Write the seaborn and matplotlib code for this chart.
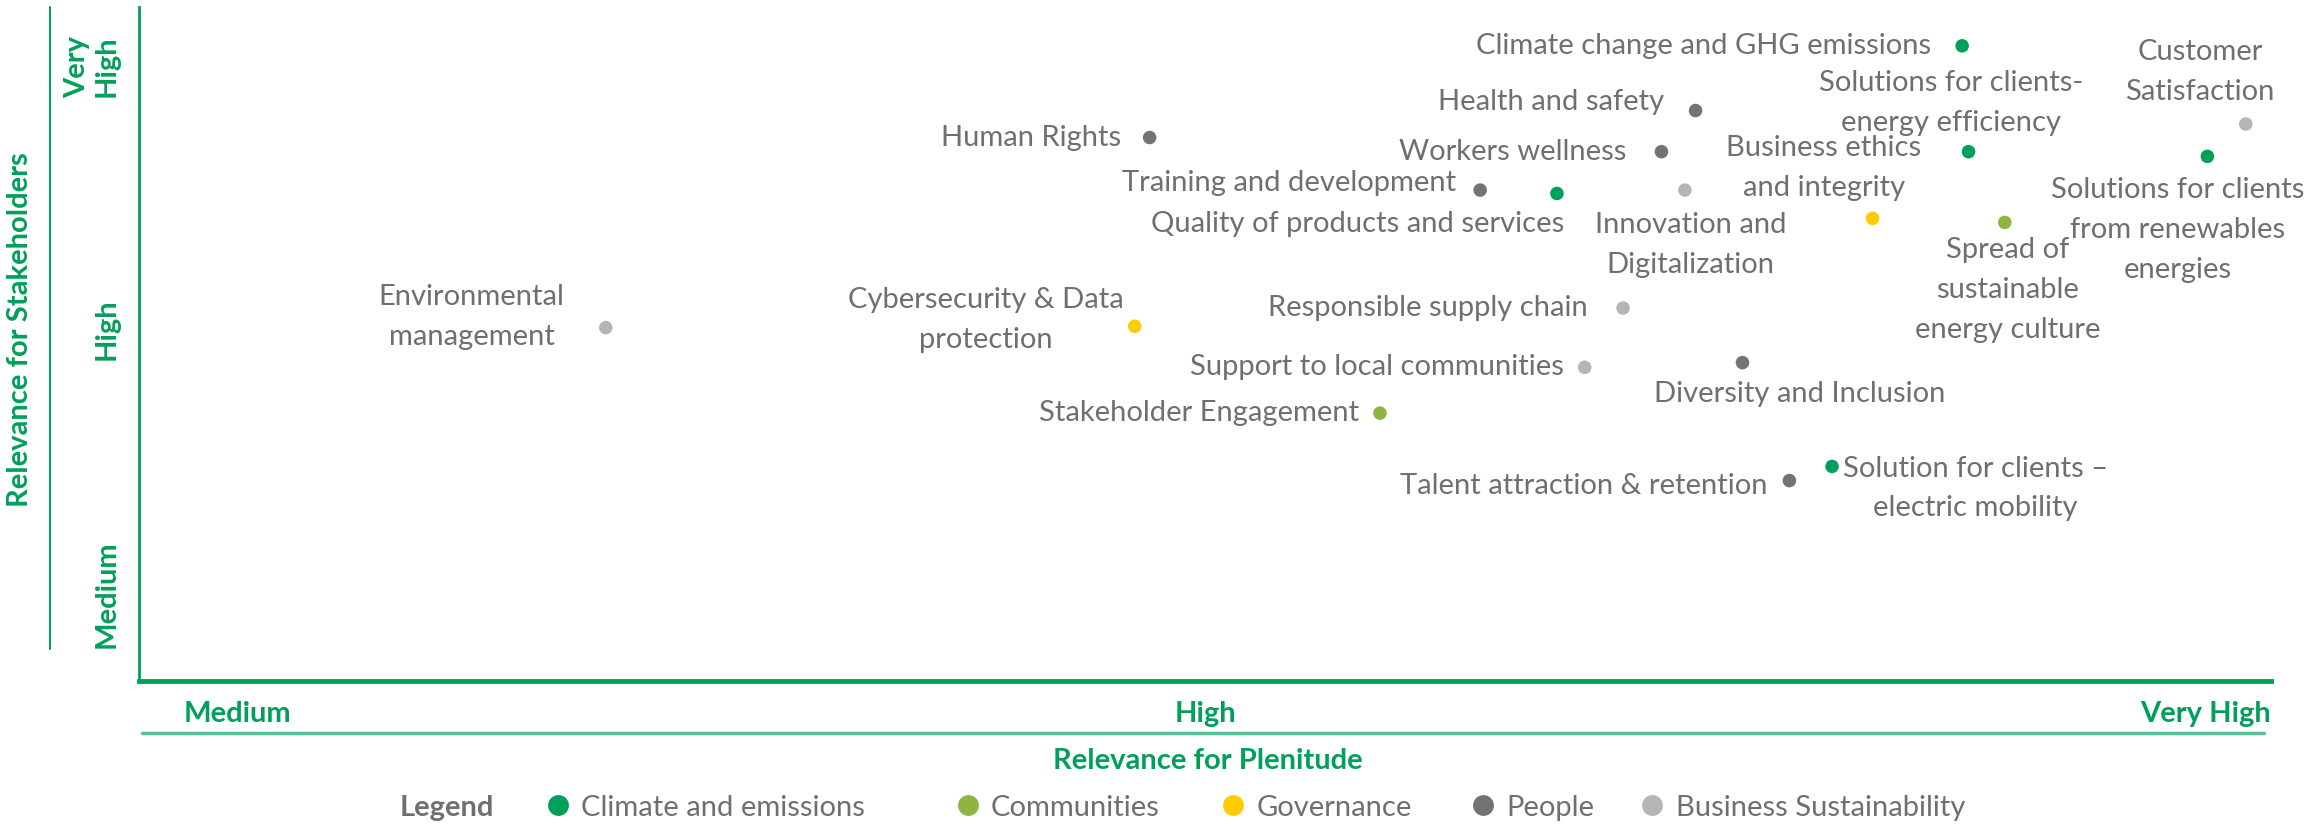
import pandas as pd
import matplotlib.pyplot as plt
import matplotlib.lines as mlines
import seaborn as sns

# data (0-10 scale on both axes)
topics = [
    "Climate change and GHG emissions", "Health and safety", "Human Rights",
    "Workers wellness", "Solutions for clients-\nenergy efficiency",
    "Customer\nSatisfaction", "Solutions for clients\nfrom renewables\nenergies",
    "Training and development", "Quality of products and services",
    "Innovation and\nDigitalization", "Business ethics\nand integrity",
    "Spread of\nsustainable\nenergy culture", "Environmental\nmanagement",
    "Cybersecurity & Data\nprotection", "Responsible supply chain",
    "Support to local communities", "Diversity and Inclusion",
    "Stakeholder Engagement", "Talent attraction & retention",
    "Solution for clients \u2013\nelectric mobility",
]
groups = [
    "Climate and emissions", "People", "People", "People", "Climate and emissions",
    "Business Sustainability", "Climate and emissions", "People", "Climate and emissions",
    "Business Sustainability", "Governance", "Communities", "Business Sustainability",
    "Governance", "Business Sustainability", "Business Sustainability", "People",
    "Communities", "People", "Climate and emissions",
]
plenitude = [8.55, 7.30, 4.74, 7.14, 8.58, 9.88, 9.70, 6.29, 6.65, 7.25,
             8.13, 8.75, 2.19, 4.67, 6.96, 6.78, 7.52, 5.82, 7.74, 7.94]
stakeholders = [9.43, 8.47, 8.07, 7.86, 7.86, 8.27, 7.79, 7.29, 7.24, 7.29,
                6.87, 6.81, 5.25, 5.27, 5.54, 4.66, 4.73, 3.98, 2.98, 3.19]

group_names = ["Climate and emissions", "Communities", "Governance", "People",
               "Business Sustainability"]
x_levels = ["Medium", "High", "Very High"]
y_levels = ["Medium", "High", "Very\nHigh"]

# label placement (offset of label centre in reference pixels, alignment)
label_pos = [(-21, 0, "right"), (-21, 6, "right"), (-19, 0, "right"), (-24, 0, "right"),
             (-12, 33, "center"), (-31, 35, "center"), (-20, -50, "center"),
             (-16, 5, "right"), (5, -21, "right"), (4, -37, "center"),
             (-33, 34, "center"), (2, -46, "center"), (-91, 7, "center"),
             (-101, 4, "center"), (-24, 0, "right"), (-14, 0, "right"),
             (39, -21, "center"), (-14, 0, "right"), (-15, -4, "right"),
             (97, -15, "center")]
line_step = 27  # reference pixels between lines of a label
# legend dot positions (figure fraction)
legend_x = [0.2411, 0.4184, 0.5332, 0.6410, 0.7143]

colors = ["#00A05A", "#8DB53F", "#FFCC00", "#737373", "#B5B5B5"]
green = "#00A05A"
text_grey = "#6F6F6F"

sns.set_style("white")
plt.rcParams["font.family"] = ["Lato", "DejaVu Sans"]
fs = 21

df = pd.DataFrame({"topic": topics, "group": groups,
                   "x": plenitude, "y": stakeholders})

fig = plt.figure(figsize=(23.13, 8.24), dpi=100)
ax = fig.add_axes([0.060, 0.173, 0.922, 0.818])

sns.scatterplot(data=df, x="x", y="y", hue="group", hue_order=group_names,
                palette=colors, s=95, edgecolor="none", legend=False, ax=ax)

px2pt = (2313 / 1568) * 72 / 100
for (name, xv, yv), (dx, dy, ha) in zip(zip(topics, plenitude, stakeholders), label_pos):
    lines = name.split("\n")
    n = len(lines)
    for i, line in enumerate(lines):
        ly = dy + ((n - 1) / 2 - i) * line_step
        ax.annotate(line, (xv, yv), xytext=(dx * px2pt, ly * px2pt),
                    textcoords="offset points", ha=ha, va="center",
                    fontsize=fs, color=text_grey)

ax.set_xlim(0, 10)
ax.set_ylim(0, 10)
for side in ["top", "right"]:
    ax.spines[side].set_visible(False)
ax.spines["left"].set_color(green)
ax.spines["left"].set_linewidth(2)
ax.spines["bottom"].set_color(green)
ax.spines["bottom"].set_linewidth(3.5)

ax.set_xticks([0.21, 5.0, 10.0])
ax.set_xticklabels(x_levels, fontsize=fs, fontweight="bold", color=green)
for lab, ha in zip(ax.get_xticklabels(), ["left", "center", "right"]):
    lab.set_ha(ha)
ax.set_yticks([1.29, 5.23, 9.12])
ax.set_yticklabels(y_levels, fontsize=fs, fontweight="bold", color=green,
                   rotation=90, va="center", linespacing=1.15)
ax.tick_params(axis="x", length=0, pad=14)
ax.tick_params(axis="y", length=0, pad=14)
ax.set_xlabel("")
ax.set_ylabel("")

# decorative guide lines
fig.add_artist(mlines.Line2D([0.0216, 0.0216], [0.212, 0.9915], color=green, lw=1.5))
fig.add_artist(mlines.Line2D([0.0614, 0.979], [0.1104, 0.1104], color="#5DBF95", lw=2.5))

fig.text(0.0085, 0.60, "Relevance for Stakeholders", rotation=90, ha="center",
         va="center", fontsize=fs, fontweight="bold", color=green)
fig.text(0.522, 0.0765, "Relevance for Plenitude", ha="center", va="center",
         fontsize=fs, fontweight="bold", color=green)

fig.text(0.193, 0.020, "Legend", ha="center", va="center", fontsize=fs,
         fontweight="bold", color=text_grey)
# one legend per entry so the uneven spacing of the original can be kept
for g, c, lx in zip(group_names, colors, legend_x):
    h = mlines.Line2D([], [], marker="o", linestyle="none", markersize=15,
                      markerfacecolor=c, markeredgecolor="none", label=g)
    leg = fig.legend(handles=[h], loc="center left", bbox_to_anchor=(lx - 0.0063, 0.020),
                     frameon=False, fontsize=fs, handletextpad=0.3,
                     handlelength=1.0, borderaxespad=0, borderpad=0)
    for t in leg.get_texts():
        t.set_color(text_grey)

fig.savefig("out.png", dpi=100)
